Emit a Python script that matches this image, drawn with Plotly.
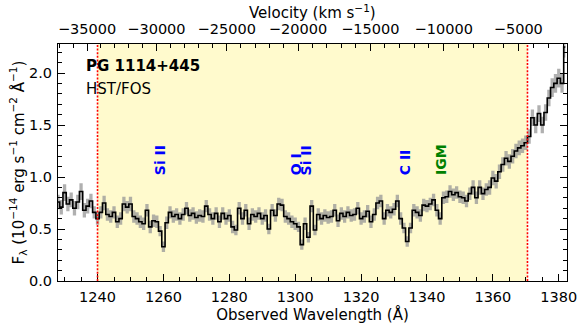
import numpy as np
import plotly.graph_objects as go

# ---------------- data ----------------
wave = list(range(1228, 1383))  # Angstrom, 1-A bins
flux = [0.76, 0.71, 0.85, 0.74, 0.78, 0.70, 0.76, 0.86, 0.68, 0.72,
        0.77, 0.66, 0.60, 0.66, 0.75, 0.64, 0.62, 0.66, 0.57, 0.60,
        0.74, 0.71, 0.74, 0.62, 0.60, 0.57, 0.55, 0.68, 0.52, 0.58,
        0.57, 0.48, 0.33, 0.56, 0.66, 0.62, 0.64, 0.60, 0.64, 0.70,
        0.63, 0.65, 0.61, 0.63, 0.62, 0.72, 0.64, 0.60, 0.65, 0.57,
        0.65, 0.60, 0.63, 0.52, 0.49, 0.70, 0.60, 0.68, 0.55, 0.64,
        0.62, 0.65, 0.60, 0.63, 0.50, 0.68, 0.63, 0.74, 0.73, 0.62,
        0.60, 0.57, 0.55, 0.52, 0.35, 0.55, 0.42, 0.72, 0.49, 0.64,
        0.60, 0.63, 0.61, 0.62, 0.68, 0.58, 0.65, 0.62, 0.66, 0.63,
        0.64, 0.70, 0.60, 0.62, 0.67, 0.57, 0.64, 0.75, 0.77, 0.60,
        0.68, 0.66, 0.69, 0.77, 0.60, 0.51, 0.38, 0.51, 0.68, 0.66,
        0.63, 0.73, 0.72, 0.74, 0.78, 0.68, 0.60, 0.80, 0.81, 0.86,
        0.83, 0.85, 0.81, 0.80, 0.77, 0.84, 0.90, 0.80, 0.90, 0.84,
        0.88, 0.90, 0.99, 0.96, 1.05, 1.12, 1.18, 1.15, 1.20, 1.25,
        1.28, 1.30, 1.33, 1.39, 1.57, 1.50, 1.61, 1.50, 1.62, 1.76,
        1.86, 1.90, 1.95, 1.90, 2.25]
err = [0.07, 0.07, 0.08, 0.07, 0.07, 0.07, 0.07, 0.08, 0.07, 0.07,
       0.07, 0.06, 0.06, 0.06, 0.07, 0.06, 0.06, 0.06, 0.06, 0.06,
       0.07, 0.06, 0.07, 0.06, 0.06, 0.06, 0.06, 0.06, 0.06, 0.06,
       0.06, 0.05, 0.05, 0.06, 0.06, 0.06, 0.06, 0.06, 0.06, 0.06,
       0.06, 0.06, 0.06, 0.06, 0.06, 0.06, 0.06, 0.06, 0.06, 0.06,
       0.06, 0.06, 0.06, 0.06, 0.05, 0.06, 0.06, 0.06, 0.06, 0.06,
       0.06, 0.06, 0.06, 0.06, 0.05, 0.06, 0.06, 0.06, 0.06, 0.06,
       0.06, 0.06, 0.06, 0.05, 0.05, 0.06, 0.05, 0.06, 0.05, 0.06,
       0.06, 0.06, 0.06, 0.06, 0.06, 0.06, 0.06, 0.06, 0.06, 0.06,
       0.06, 0.06, 0.06, 0.06, 0.06, 0.06, 0.06, 0.06, 0.06, 0.06,
       0.06, 0.06, 0.06, 0.06, 0.06, 0.05, 0.05, 0.05, 0.06, 0.06,
       0.06, 0.06, 0.06, 0.06, 0.06, 0.06, 0.06, 0.06, 0.06, 0.06,
       0.06, 0.06, 0.06, 0.06, 0.06, 0.06, 0.07, 0.06, 0.07, 0.06,
       0.06, 0.07, 0.07, 0.07, 0.07, 0.07, 0.07, 0.07, 0.07, 0.07,
       0.07, 0.07, 0.07, 0.07, 0.08, 0.08, 0.08, 0.08, 0.08, 0.08,
       0.09, 0.09, 0.09, 0.09, 0.10]

region = [1240.0, 1370.5]          # shaded search window (A)
lam0 = 1390.73                      # Ly-alpha at z = 0.144 (velocity zero point)
vel_major = [-35000, -30000, -25000, -20000, -15000, -10000, -5000]
vel_minor = list(range(-37000, -1000, 1000))

line_names = ["Si II", "O I", "Si II", "C II", "IGM"]
line_waves = [1259.0, 1300.3, 1303.4, 1333.4, 1344.1]
line_colors = ["blue", "blue", "blue", "blue", "green"]

# ---------------- figure ----------------
C_KMS = 299792.458


def vel_to_wave(v):
    b = v / C_KMS
    return lam0 * np.sqrt((1 + b) / (1 - b))


lo = [f - e for f, e in zip(flux, err)]
hi = [f + e for f, e in zip(flux, err)]

FONT = "DejaVu Sans"
fig = go.Figure()

fig.add_trace(go.Scatter(x=wave, y=lo, mode="lines", line=dict(width=0, shape="hvh"),
                         showlegend=False, hoverinfo="skip"))
fig.add_trace(go.Scatter(x=wave, y=hi, mode="lines", line=dict(width=0, shape="hvh"),
                         fill="tonexty", fillcolor="rgba(150,150,150,0.75)",
                         showlegend=False, hoverinfo="skip"))
fig.add_trace(go.Scatter(x=wave, y=flux, mode="lines",
                         line=dict(color="black", width=1.6, shape="hvh"),
                         showlegend=False))
# invisible trace on the top (velocity) axis so it is drawn
fig.add_trace(go.Scatter(x=[wave[0]], y=[flux[0]], xaxis="x2", mode="markers",
                         marker=dict(opacity=0), showlegend=False, hoverinfo="skip"))

fig.add_shape(type="rect", xref="x", yref="paper", x0=region[0], x1=region[1], y0=0, y1=1,
              fillcolor="rgb(255,250,205)", line=dict(width=0), layer="below")
for xv in region:
    fig.add_shape(type="line", xref="x", yref="paper", x0=xv, x1=xv, y0=0, y1=1,
                  line=dict(color="rgb(255,0,0)", width=1.6, dash="2px,1.6px"), layer="above")

for name, lw, col in zip(line_names, line_waves, line_colors):
    fig.add_annotation(x=lw, y=1.0, xref="x", yref="y", text="<b>%s</b>" % name,
                       textangle=-90, showarrow=False, xanchor="center", yanchor="bottom",
                       font=dict(family=FONT, size=14, color=col))

fig.add_annotation(x=0.052, y=0.955, xref="paper", yref="paper", text="<b>PG 1114+445</b>",
                   showarrow=False, xanchor="left", yanchor="top",
                   font=dict(family=FONT, size=15, color="black"))
fig.add_annotation(x=0.052, y=0.855, xref="paper", yref="paper", text="HST/FOS",
                   showarrow=False, xanchor="left", yanchor="top",
                   font=dict(family=FONT, size=15, color="black"))
# top-axis (velocity) title
fig.add_annotation(x=0.5, y=1.0, xref="paper", yref="paper",
                   text="Velocity (km s<sup>\u22121</sup>)", showarrow=False,
                   xanchor="center", yanchor="middle", yshift=32,
                   font=dict(family=FONT, size=15, color="black"))

xr = [1228.0, 1382.5]
tickfont = dict(family=FONT, size=14.5, color="black")
fig.update_layout(
    width=580, height=330,
    margin=dict(l=58, r=13, t=44, b=49),
    paper_bgcolor="white", plot_bgcolor="white",
    font=dict(family=FONT, color="black"),
    xaxis=dict(range=xr, showline=True, linecolor="black", linewidth=1.2, mirror=True,
               automargin=False, ticklabelstandoff=2,
               ticks="inside", ticklen=7, tickwidth=1.1, tickcolor="black",
               dtick=20, tick0=1240, showgrid=False, zeroline=False, tickfont=tickfont,
               minor=dict(ticks="inside", dtick=5, tick0=1240, ticklen=3.5,
                          tickwidth=1, tickcolor="black"),
               title=dict(text="Observed Wavelength (Å)", font=dict(family=FONT, size=15),
                          standoff=4)),
    xaxis2=dict(range=xr, overlaying="x", side="top", showline=False, automargin=False,
                ticklabelstandoff=6,
                tickmode="array", tickvals=[float(vel_to_wave(v)) for v in vel_major],
                ticktext=["\u2212%d" % abs(v) for v in vel_major],
                ticks="inside", ticklen=7, tickwidth=1.1, tickcolor="black",
                showgrid=False, zeroline=False, tickfont=tickfont,
                minor=dict(ticks="inside", tickvals=[float(vel_to_wave(v)) for v in vel_minor],
                           ticklen=3.5, tickwidth=1, tickcolor="black")),
    yaxis=dict(range=[0, 2.279], showline=True, linecolor="black", linewidth=1.2, mirror="ticks",
               automargin=False, ticklabelstandoff=2,
               ticks="inside", ticklen=7, tickwidth=1.1, tickcolor="black",
               dtick=0.5, tick0=0, tickformat=".1f", showgrid=False, zeroline=False,
               tickfont=tickfont,
               minor=dict(ticks="inside", dtick=0.1, ticklen=3.5, tickwidth=1, tickcolor="black"),
               title=dict(text="F<sub>λ</sub> (10<sup>\u221214</sup> erg s<sup>\u22121</sup> cm<sup>\u22122</sup> Å<sup>\u22121</sup>)",
                          font=dict(family=FONT, size=15), standoff=0)),
)

fig.write_html("out.html", config={"displayModeBar": False},
               post_script="document.body.style.margin='0px';")
